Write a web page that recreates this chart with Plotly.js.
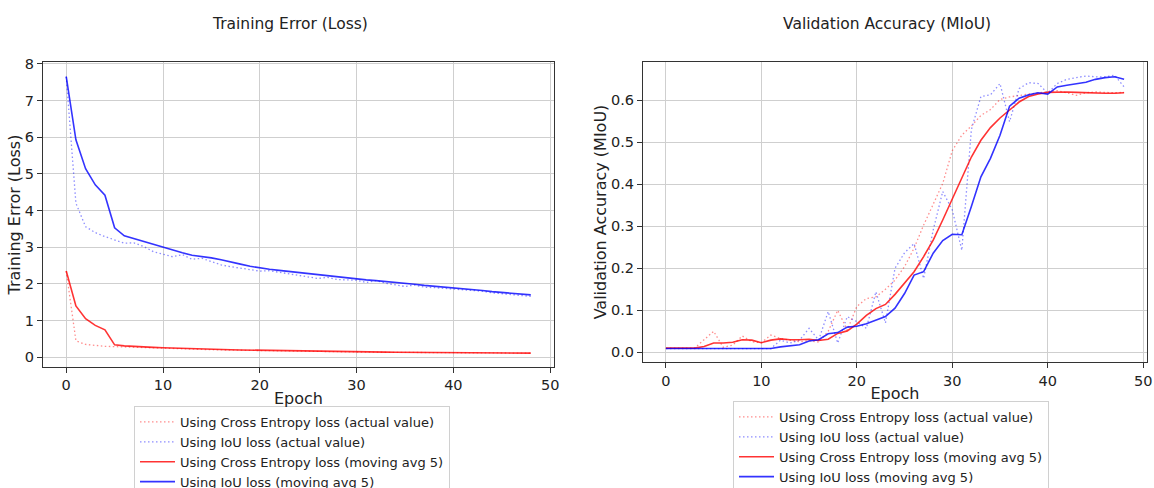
<!DOCTYPE html>
<html>
<head>
<meta charset="utf-8">
<script src="https://cdn.plot.ly/plotly-3.0.1.min.js"></script>
<style>html,body{margin:0;padding:0;background:#fff;}#chart{width:1154px;height:488px;}</style>
</head>
<body>
<div id="chart"></div>
<script>
// ---- data ----
const epochs = [0,1,2,3,4,5,6,7,8,9,10,11,12,13,14,15,16,17,18,19,20,21,22,23,24,25,26,27,28,29,30,31,32,33,34,35,36,37,38,39,40,41,42,43,44,45,46,47,48];

// Training error (loss)
const lossCEActual = [2.35,0.45,0.35,0.32,0.30,0.29,0.28,0.27,0.26,0.25,0.24,0.233,0.226,0.22,0.213,0.207,0.20,0.195,0.19,0.185,0.18,0.175,0.17,0.166,0.162,0.158,0.155,0.152,0.149,0.146,0.143,0.14,0.138,0.136,0.134,0.132,0.13,0.128,0.126,0.124,0.122,0.12,0.118,0.117,0.116,0.115,0.114,0.113,0.112];
const lossIoUActual = [7.65,4.2,3.56,3.4,3.29,3.2,3.11,3.12,3.02,2.88,2.82,2.74,2.8,2.67,2.7,2.61,2.52,2.47,2.43,2.38,2.35,2.36,2.32,2.27,2.23,2.21,2.15,2.18,2.12,2.11,2.1,2.04,2.09,2.02,1.98,1.93,1.97,1.91,1.9,1.88,1.87,1.83,1.81,1.8,1.76,1.74,1.72,1.7,1.66];
const lossCEAvg5 = [2.35,1.40,1.05,0.87,0.75,0.34,0.31,0.29,0.28,0.27,0.26,0.25,0.243,0.236,0.228,0.22,0.213,0.207,0.2,0.195,0.19,0.185,0.18,0.175,0.17,0.166,0.162,0.158,0.155,0.152,0.149,0.146,0.143,0.14,0.138,0.136,0.134,0.132,0.13,0.128,0.126,0.124,0.122,0.12,0.118,0.117,0.116,0.115,0.114];
const lossIoUAvg5 = [7.65,5.93,5.14,4.70,4.42,3.53,3.31,3.23,3.15,3.07,2.99,2.92,2.85,2.78,2.75,2.71,2.66,2.59,2.54,2.48,2.43,2.40,2.37,2.34,2.31,2.27,2.24,2.21,2.18,2.15,2.13,2.11,2.09,2.07,2.05,2.01,1.99,1.96,1.94,1.92,1.89,1.88,1.85,1.82,1.79,1.77,1.75,1.72,1.70];

// Validation accuracy (MIoU)
const miouCEActual = [0.01,0.01,0.01,0.01,0.03,0.05,0.012,0.017,0.039,0.025,0.023,0.041,0.033,0.029,0.025,0.028,0.024,0.05,0.1,0.053,0.109,0.128,0.132,0.15,0.172,0.204,0.248,0.303,0.351,0.402,0.48,0.517,0.539,0.564,0.578,0.602,0.608,0.612,0.615,0.618,0.621,0.623,0.618,0.612,0.618,0.62,0.619,0.618,0.619];
const miouIoUActual = [0.009,0.009,0.009,0.009,0.009,0.009,0.009,0.009,0.009,0.009,0.009,0.009,0.029,0.022,0.029,0.057,0.029,0.097,0.022,0.085,0.073,0.057,0.144,0.07,0.2,0.237,0.259,0.176,0.291,0.383,0.339,0.243,0.53,0.609,0.613,0.64,0.549,0.628,0.642,0.64,0.617,0.64,0.65,0.654,0.658,0.656,0.656,0.66,0.632];
const miouCEAvg5 = [0.01,0.01,0.01,0.01,0.014,0.022,0.022,0.024,0.03,0.029,0.023,0.029,0.032,0.030,0.030,0.031,0.028,0.031,0.045,0.051,0.067,0.088,0.104,0.114,0.138,0.164,0.192,0.228,0.267,0.315,0.365,0.416,0.465,0.505,0.535,0.558,0.578,0.596,0.609,0.615,0.619,0.62,0.62,0.619,0.618,0.618,0.617,0.617,0.618];
const miouIoUAvg5 = [0.009,0.009,0.009,0.009,0.009,0.009,0.009,0.009,0.009,0.009,0.009,0.009,0.013,0.015,0.018,0.027,0.03,0.044,0.047,0.06,0.062,0.068,0.077,0.085,0.105,0.14,0.184,0.192,0.236,0.266,0.281,0.28,0.347,0.418,0.462,0.517,0.586,0.605,0.613,0.618,0.615,0.632,0.636,0.64,0.643,0.65,0.654,0.656,0.65];

const seriesNames = [
  'Using Cross Entropy loss (actual value)',
  'Using IoU loss (actual value)',
  'Using Cross Entropy loss (moving avg 5)',
  'Using IoU loss (moving avg 5)'
];
const xTicks = [0,10,20,30,40,50];

// ---- styling ----
const FONT = 'DejaVu Sans, Liberation Sans, sans-serif';
const redDot = 'rgba(255,0,0,0.45)', blueDot = 'rgba(0,0,255,0.45)';
const redSolid = 'rgba(255,0,0,0.8)', blueSolid = 'rgba(0,0,255,0.8)';
const dotDash = '1.5px,2.5px';

function mk(y, name, color, dotted, xa, ya, leg) {
  return {
    x: epochs, y: y, name: name, type: 'scatter', mode: 'lines',
    xaxis: xa, yaxis: ya, legend: leg,
    line: {color: color, width: dotted ? 1.3 : 1.6, dash: dotted ? dotDash : 'solid'},
    hoverinfo: 'skip'
  };
}

const traces = [
  mk(lossCEActual, seriesNames[0], redDot, true, 'x', 'y', 'legend'),
  mk(lossIoUActual, seriesNames[1], blueDot, true, 'x', 'y', 'legend'),
  mk(lossCEAvg5, seriesNames[2], redSolid, false, 'x', 'y', 'legend'),
  mk(lossIoUAvg5, seriesNames[3], blueSolid, false, 'x', 'y', 'legend'),
  mk(miouCEActual, seriesNames[0], redDot, true, 'x2', 'y2', 'legend2'),
  mk(miouIoUActual, seriesNames[1], blueDot, true, 'x2', 'y2', 'legend2'),
  mk(miouCEAvg5, seriesNames[2], redSolid, false, 'x2', 'y2', 'legend2'),
  mk(miouIoUAvg5, seriesNames[3], blueSolid, false, 'x2', 'y2', 'legend2')
];

const W = 1154, H = 488;
const axCommon = {
  showline: true, linecolor: '#333', linewidth: 1, mirror: true,
  ticks: 'outside', ticklen: 5, tickwidth: 1, tickcolor: '#333',
  showgrid: true, gridcolor: '#cfcfcf', gridwidth: 1,
  zeroline: false, automargin: false,
  tickfont: {family: FONT, size: 14.5, color: '#222'}
};
const titleFont = {family: FONT, size: 16, color: '#222'};

const legendCommon = {
  xanchor: 'left', yanchor: 'top', bgcolor: '#ffffff',
  bordercolor: '#d0d0d0', borderwidth: 1,
  font: {family: FONT, size: 13, color: '#222'},
  itemwidth: 35, traceorder: 'normal', tracegroupgap: 0
};

const layout = {
  width: W, height: H,
  margin: {l: 0, r: 0, t: 0, b: 0, autoexpand: false},
  paper_bgcolor: '#fff', plot_bgcolor: '#fff',
  font: {family: FONT, color: '#222'},
  showlegend: true,
  xaxis: Object.assign({}, axCommon, {
    domain: [43/W, 554/W], range: [-2.4, 50.4], tickvals: xTicks,
    anchor: 'y', title: {text: 'Epoch', font: titleFont, standoff: 0}
  }),
  yaxis: Object.assign({}, axCommon, {
    domain: [1 - 367/H, 1 - 62/H], range: [-0.265, 8.05], dtick: 1, tick0: 0,
    anchor: 'x', title: {text: 'Training Error (Loss)', font: titleFont, standoff: 0}
  }),
  xaxis2: Object.assign({}, axCommon, {
    domain: [643/W, 1147/W], range: [-2.4, 50.4], tickvals: xTicks,
    anchor: 'y2', title: {text: 'Epoch', font: titleFont, standoff: 0}
  }),
  yaxis2: Object.assign({}, axCommon, {
    domain: [1 - 362.3/H, 1 - 61.7/H], range: [-0.0238, 0.692], dtick: 0.1, tick0: 0,
    tickformat: '.1f', anchor: 'x2',
    title: {text: 'Validation Accuracy (MIoU)', font: titleFont, standoff: 0}
  }),
  legend: Object.assign({}, legendCommon, {x: 134/W, y: 1 - 406/H}),
  legend2: Object.assign({}, legendCommon, {x: 733/W, y: 1 - 401/H}),
  annotations: [
    {text: 'Training Error (Loss)', xref: 'paper', yref: 'paper', x: 290/W, y: 1 - 24/H,
     xanchor: 'center', yanchor: 'middle', showarrow: false, font: {family: FONT, size: 15.5, color: '#222'}},
    {text: 'Validation Accuracy (MIoU)', xref: 'paper', yref: 'paper', x: 887.5/W, y: 1 - 24/H,
     xanchor: 'center', yanchor: 'middle', showarrow: false, font: {family: FONT, size: 15.5, color: '#222'}}
  ]
};

Plotly.newPlot('chart', traces, layout, {staticPlot: true, displayModeBar: false});
</script>
</body>
</html>
